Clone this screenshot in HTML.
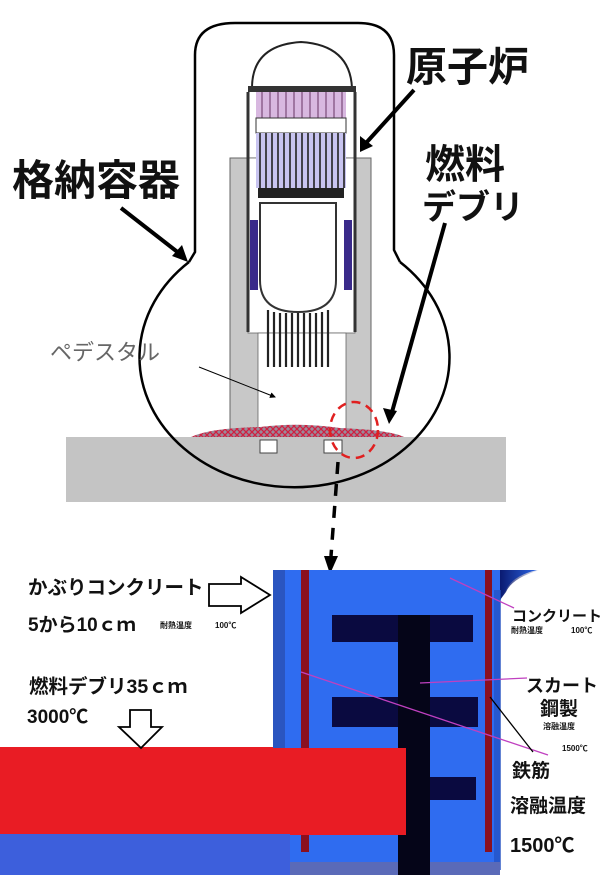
<!DOCTYPE html>
<html><head><meta charset="utf-8"><style>
html,body{margin:0;padding:0;background:#fff;width:607px;height:875px;overflow:hidden}
svg{display:block}
text{font-family:"Liberation Sans","Noto Sans CJK JP",sans-serif}
</style></head><body>
<svg width="607" height="875" viewBox="0 0 607 875" xmlns="http://www.w3.org/2000/svg">
<defs>
<pattern id="hatch" width="6" height="6" patternUnits="userSpaceOnUse">
<rect width="6" height="6" fill="#9a8a9a"/>
<path d="M0 0L6 6M6 0L0 6" stroke="#d02040" stroke-width="1.3"/>
</pattern>
<marker id="ah" markerWidth="6" markerHeight="6" refX="5" refY="3" orient="auto"><path d="M0 0L6 3L0 6z" fill="#000"/></marker>
<linearGradient id="fade" x1="0" x2="1" y1="0" y2="0"><stop offset="0" stop-color="#0a1a70"/><stop offset="1" stop-color="#0a1a70" stop-opacity="0"/></linearGradient>
</defs>
<!-- ground -->
<rect x="66" y="437" width="440" height="65" fill="#c4c4c4"/>
<!-- pedestal -->
<rect x="230" y="158" width="141" height="275" fill="#c8c8c8" stroke="#666" stroke-width="1"/>
<rect x="248" y="158" width="107" height="175" fill="#fff" stroke="#666" stroke-width="0.8"/>
<rect x="258" y="333" width="88" height="100" fill="#fff" stroke="#666" stroke-width="0.8"/>
<!-- reactor -->
<path d="M252 88 Q252 45 301 42 Q350 45 352 88" fill="#fff" stroke="#222" stroke-width="2"/>
<rect x="248" y="86" width="108" height="6" fill="#333"/>
<rect x="256" y="92" width="90" height="26" fill="#d8b8e0"/>
<g stroke="#7a4a7a" stroke-width="1.2"><path d="M262 92v26M270 92v26M278 92v26M286 92v26M294 92v26M302 92v26M310 92v26M318 92v26M326 92v26M334 92v26M342 92v26"/></g>
<rect x="256" y="118" width="90" height="15" fill="#fff" stroke="#333" stroke-width="1"/>
<rect x="256" y="133" width="90" height="55" fill="#c8c4f0"/>
<g stroke="#222" stroke-width="1.6"><path d="M260 133v55M266 133v55M272 133v55M278 133v55M284 133v55M290 133v55M296 133v55M302 133v55M308 133v55M314 133v55M320 133v55M326 133v55M332 133v55M338 133v55M344 133v55"/></g>
<rect x="258" y="188" width="86" height="10" fill="#222"/>
<path d="M248 92v240M355 92v240" stroke="#333" stroke-width="3"/>
<rect x="250" y="220" width="8" height="70" fill="#3a2a8a"/>
<rect x="344" y="220" width="8" height="70" fill="#3a2a8a"/>
<path d="M260 203 L336 203 L336 280 Q336 312 298 312 Q260 312 260 280 Z" fill="#fff" stroke="#333" stroke-width="2"/>
<g stroke="#222" stroke-width="2.2"><path d="M268 310v57M274 312v55M280 313v54M286 313v54M292 313v54M298 313v54M304 313v54M310 313v54M316 313v54M322 312v55M328 310v57"/></g>
<!-- debris -->
<path d="M191 437 Q210 428 260 427 Q300 422 340 428 Q390 430 404 437 Z" fill="url(#hatch)"/>
<rect x="260" y="440" width="17" height="13" fill="#fff" stroke="#444"/>
<rect x="324" y="440" width="18" height="13" fill="#fff" stroke="#444"/>
<!-- containment -->
<path d="M189 262 L195 252 L195 55 Q195 23 235 23 L358 23 Q394 23 394 55 L394 250 L400 262" fill="none" stroke="#000" stroke-width="2.5"/>
<path d="M189 262 A155 130 0 1 0 400 262" fill="none" stroke="#000" stroke-width="2.5"/>
<!-- red dashed ellipse -->
<ellipse cx="354" cy="430" rx="24" ry="28" fill="none" stroke="#e02020" stroke-width="2.5" stroke-dasharray="9 6"/>
<!-- arrows -->
<line x1="414" y1="90" x2="366" y2="143" stroke="#000" stroke-width="4"/>
<path d="M360 152 L360 136 L373 146 Z" fill="#000"/>
<line x1="121" y1="208" x2="180" y2="254" stroke="#000" stroke-width="4"/>
<path d="M188 262 L172 256 L182 245 Z" fill="#000"/>
<line x1="445" y1="223" x2="392" y2="412" stroke="#000" stroke-width="4"/>
<path d="M389 424 L383 408 L397 411 Z" fill="#000"/>
<line x1="199" y1="367" x2="275" y2="397" stroke="#000" stroke-width="1" marker-end="url(#ah)"/>
<line x1="338" y1="462" x2="331" y2="556" stroke="#000" stroke-width="3.5" stroke-dasharray="12 10"/>
<path d="M324 556 L338 556 L330 574 Z" fill="#000"/>
<!-- labels top -->
<text x="406" y="81" font-size="41" font-weight="bold" fill="#111">原子炉</text>
<text x="12" y="195" font-size="42" font-weight="bold" fill="#111">格納容器</text>
<text x="425" y="178" font-size="40" font-weight="bold" fill="#111">燃料</text>
<text x="422" y="219" font-size="34" font-weight="bold" fill="#111">デブリ</text>
<text x="50" y="360" font-size="22" fill="#666">ペデスタル</text>
<!-- bottom panel -->
<path d="M273 570 L537 570 Q512 576 506 590 L500 600 L500 875 L273 875 Z" fill="#2f6cf0"/>
<path d="M500 570 L540 570 Q512 578 506 592 L500 600 Z" fill="url(#fade)"/>
<rect x="494" y="590" width="7" height="280" fill="#2250c0" opacity="0.7"/>
<rect x="273" y="570" width="12" height="305" fill="#2a55c0"/>
<rect x="273" y="862" width="227" height="13" fill="#5a6ab8"/>
<g fill="#0a0a40">
<rect x="332" y="615" width="141" height="27"/>
<rect x="332" y="697" width="146" height="30"/>
<rect x="420" y="777" width="56" height="23"/>
<rect x="398" y="615" width="32" height="260" fill="#050518"/>
</g>
<rect x="301" y="570" width="8" height="282" fill="#8a1020"/>
<rect x="485" y="570" width="7" height="282" fill="#8a1020"/>
<rect x="0" y="747" width="273" height="87" fill="#e91c24"/>
<rect x="273" y="748" width="133" height="87" fill="#e91c24"/>
<rect x="0" y="834" width="290" height="41" fill="#3d5fdc"/>
<!-- thin lines -->
<g stroke="#c040c0" stroke-width="1.3">
<line x1="450" y1="578" x2="514" y2="608"/>
<line x1="420" y1="683" x2="527" y2="678"/>
<line x1="301" y1="672" x2="548" y2="755"/>
</g>
<line x1="490" y1="697" x2="533" y2="752" stroke="#000" stroke-width="1.3"/>
<!-- hollow arrows -->
<path d="M209 584 L241 584 L241 577 L270 595 L241 613 L241 606 L209 606 Z" fill="#fff" stroke="#000" stroke-width="1.8"/>
<path d="M130 710 L151 710 L151 727 L162 727 L141 748 L119 727 L130 727 Z" fill="#fff" stroke="#000" stroke-width="1.8"/>
<!-- bottom labels -->
<g font-weight="bold" fill="#111">
<text x="28" y="594" font-size="19.5">かぶりコンクリート</text>
<text x="28" y="631" font-size="19">5から10ｃｍ</text>
<text x="160" y="628" font-size="8">耐熱温度</text>
<text x="215" y="628" font-size="8">100℃</text>
<text x="29" y="693" font-size="19.5">燃料デブリ35ｃｍ</text>
<text x="27" y="723" font-size="19">3000℃</text>
<text x="512" y="621" font-size="15">コンクリート</text>
<text x="511" y="633" font-size="8">耐熱温度</text>
<text x="571" y="633" font-size="8">100℃</text>
<text x="526" y="692" font-size="18">スカート</text>
<text x="540" y="715" font-size="19">鋼製</text>
<text x="543" y="729" font-size="8">溶融温度</text>
<text x="562" y="751" font-size="8">1500℃</text>
<text x="512" y="777" font-size="19">鉄筋</text>
<text x="510" y="812" font-size="19">溶融温度</text>
<text x="510" y="852" font-size="20">1500℃</text>
</g>
</svg>
</body></html>
